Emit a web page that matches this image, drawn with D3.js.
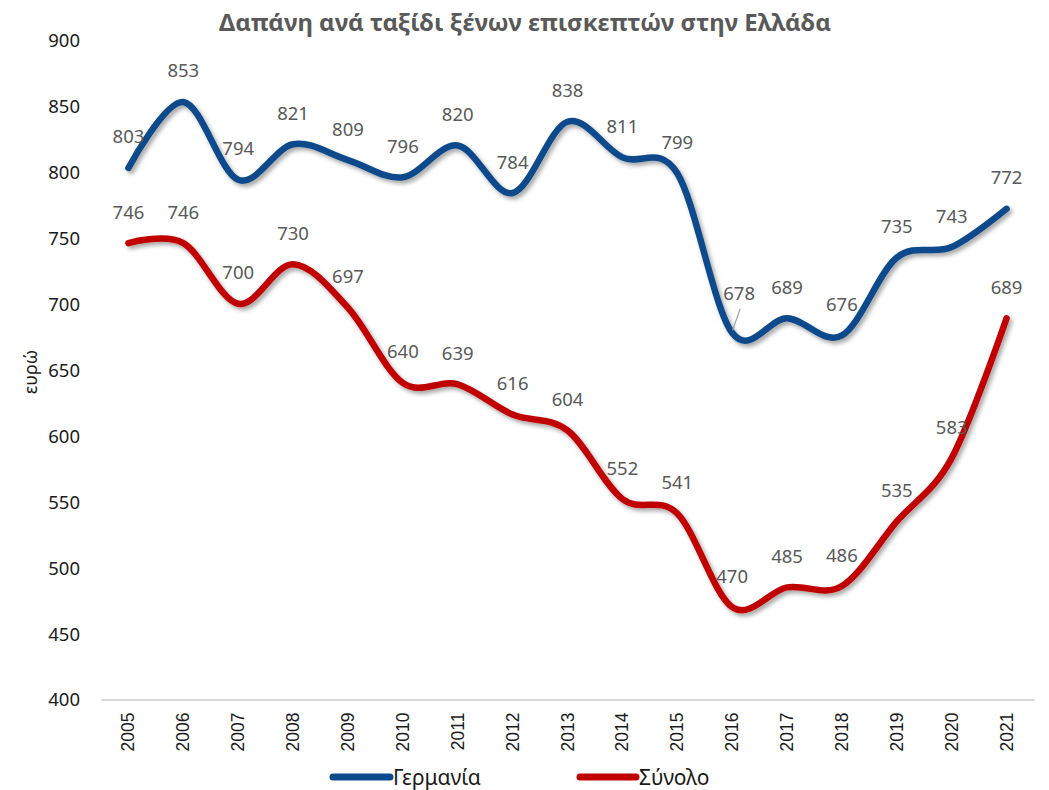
<!DOCTYPE html>
<html>
<head>
<meta charset="utf-8">
<script src="https://cdn.jsdelivr.net/npm/d3@7"></script>
<style>
html,body{margin:0;padding:0;background:#fff;}
svg{display:block;}
</style>
</head>
<body>
<svg id="chart" width="1049" height="790"></svg>
<script>
const years = ["2005","2006","2007","2008","2009","2010","2011","2012","2013","2014","2015","2016","2017","2018","2019","2020","2021"];
const germany = [803,853,794,821,809,796,820,784,838,811,799,678,689,676,735,743,772];
const total = [746,746,700,730,697,640,639,616,604,552,541,470,485,486,535,583,689];
const yTicks = [400,450,500,550,600,650,700,750,800,850,900];
const seriesNames = ["Γερμανία","Σύνολο"];
const title = "Δαπάνη ανά ταξίδι ξένων επισκεπτών στην Ελλάδα";
const yLabel = "ευρώ";

const colors = ["#0B4A8B","#C00000"];
const svg = d3.select("#chart");
const font = "'Noto Sans', 'Open Sans', sans-serif";

const defs = svg.append("defs");
const f = defs.append("filter").attr("id","shadow").attr("x","-10%").attr("y","-10%").attr("width","120%").attr("height","130%");
f.append("feDropShadow").attr("dx",2.5).attr("dy",3).attr("stdDeviation",2).attr("flood-color","#000").attr("flood-opacity",0.35);

const x = d3.scaleBand().domain(years).range([101,1034]);
const cx = d => x(d) + x.bandwidth()/2;
const y = d3.scaleLinear().domain([400,900]).range([699.5,40]);

// title
const t = svg.append("text").text(title)
  .attr("x",525).attr("y",31).attr("text-anchor","middle")
  .attr("font-family",font).attr("font-weight","bold").attr("font-size",24)
  .attr("fill","#595959");
const tw = t.node().getComputedTextLength();
if (tw > 625) t.attr("font-size", 24*625/tw);

// y axis (labels only)
const yAxis = d3.axisLeft(y).tickValues(yTicks).tickSize(0).tickPadding(0);
const yg = svg.append("g").attr("transform","translate(80,0)").call(yAxis);
yg.select(".domain").remove();
yg.selectAll("text").attr("font-family",font).attr("font-size",18.5).attr("fill","#1a1a1a").attr("dy","0.35em");

svg.append("text").text(yLabel)
  .attr("transform","translate(37,372) rotate(-90)")
  .attr("text-anchor","middle")
  .attr("font-family",font).attr("font-size",18).attr("fill","#1a1a1a");

// x axis
const xAxis = d3.axisBottom(x).tickSize(0).tickPadding(0);
const xg = svg.append("g").attr("transform","translate(0,699.5)").call(xAxis);
xg.select(".domain").attr("stroke","#d9d9d9").attr("stroke-width",2);
xg.selectAll("text")
  .attr("font-family","'Liberation Sans', Arial, sans-serif").attr("font-size",17.5).attr("fill","#1a1a1a")
  .attr("text-anchor","end")
  .attr("transform","translate(6,13) rotate(-90)")
  .attr("x",0).attr("y",0).attr("dy",0);

// lines
const line = d3.line().x((d,i)=>cx(years[i])).y(d=>y(d)).curve(d3.curveCardinal.tension(0));
[germany,total].forEach((s,k)=>{
  svg.append("path").datum(s)
    .attr("d",line).attr("fill","none")
    .attr("stroke",colors[k]).attr("stroke-width",6.5)
    .attr("stroke-linecap","round").attr("stroke-linejoin","round")
    .attr("filter","url(#shadow)");
});

// data labels
function labels(s, moved){
  svg.append("g").selectAll("text").data(s).join("text")
    .attr("x",(d,i)=> cx(years[i]) + (moved[i] ? moved[i][0] : 0))
    .attr("y",(d,i)=> y(d) - 24.5 + (moved[i] ? moved[i][1] : 0))
    .attr("text-anchor","middle")
    .attr("font-family",font).attr("font-size",18.5).attr("fill","#595959")
    .text(d=>d);
}
labels(germany, {11:[7,-8]});
labels(total, {});

// leader line for moved label
const i16 = 11;
svg.append("line")
  .attr("x1",cx(years[i16])+0.5).attr("y1",y(germany[i16])-2.5)
  .attr("x2",cx(years[i16])+8).attr("y2",y(germany[i16])-24)
  .attr("stroke","#a6a6a6").attr("stroke-width",1.2);

// legend
const leg = [{x1:333,x2:390,tx:393},{x1:580,x2:636,tx:639}];
leg.forEach((l,k)=>{
  svg.append("line").attr("x1",l.x1).attr("x2",l.x2).attr("y1",777).attr("y2",777)
    .attr("stroke",colors[k]).attr("stroke-width",7).attr("stroke-linecap","round");
  svg.append("text").text(seriesNames[k]).attr("x",l.tx).attr("y",784.5)
    .attr("font-family",font).attr("font-size",21).attr("fill","#1a1a1a");
});
</script>
</body>
</html>
